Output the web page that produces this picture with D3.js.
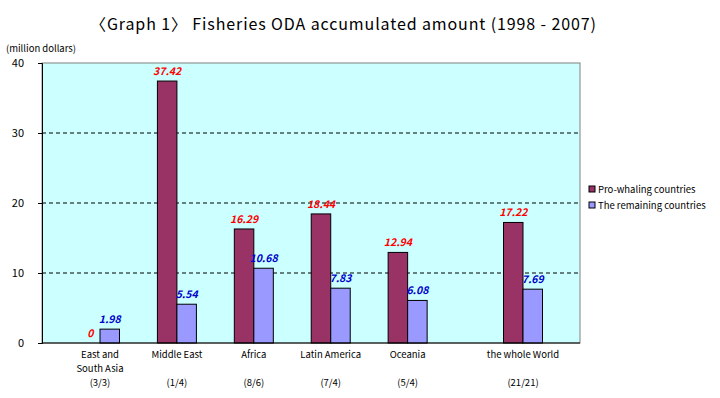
<!DOCTYPE html>
<html>
<head>
<meta charset="utf-8">
<script src="https://cdn.jsdelivr.net/npm/d3@7"></script>
<style>
  body { margin: 0; background: #fff; }
  svg text { font-family: "Noto Sans CJK JP", "DejaVu Sans", sans-serif; }
</style>
</head>
<body>
<div id="chart"></div>
<script>
// data
var regions = ["East and South Asia", "Middle East", "Africa", "Latin America", "Oceania", "the whole World"];
var labelLines = [["East and", "South Asia", "(3/3)"], ["Middle East", "", "(1/4)"], ["Africa", "", "(8/6)"],
                  ["Latin America", "", "(7/4)"], ["Oceania", "", "(5/4)"], ["the whole World", "", "(21/21)"]];
var proWhaling = [0, 37.42, 16.29, 18.44, 12.94, 17.22];
var remaining = [1.98, 5.54, 10.68, 7.83, 6.08, 7.69];
var yTicks = [0, 10, 20, 30, 40];
var seriesNames = ["Pro-whaling countries", "The remaining countries"];

var width = 720, height = 398;
var plot = {left: 42, right: 580, top: 63, bottom: 343};
var barW = 19.5;

var svg = d3.select("#chart").append("svg")
    .attr("width", width)
    .attr("height", height);

// the whole World sits a half slot further right than the others
var slot = function (i) { return i < 5 ? i : i + 0.5; };
var x = d3.scaleLinear().domain([0, 5.5]).range([100, 523]);
var y = d3.scaleLinear().domain([0, 40]).range([plot.bottom, plot.top]);

svg.append("text")
    .attr("x", 90).attr("y", 30)
    .attr("textLength", 506)
    .attr("lengthAdjust", "spacing")
    .style("font-size", "16px")
    .text("\u3008Graph 1\u3009 Fisheries ODA accumulated amount (1998 - 2007)");

svg.append("text")
    .attr("x", 6).attr("y", 52)
    .style("font-size", "9.5px")
    .text("(million dollars)");

// plot background
svg.append("rect")
    .attr("x", plot.left).attr("y", plot.top)
    .attr("width", plot.right - plot.left)
    .attr("height", plot.bottom - plot.top)
    .style("fill", "#ccffff")
    .style("stroke", "#808080");

// dashed gridlines
svg.selectAll(".grid")
    .data(yTicks.filter(function (d) { return d > 0 && d < 40; }))
    .enter().append("line")
    .attr("x1", plot.left).attr("x2", plot.right)
    .attr("y1", function (d) { return y(d); })
    .attr("y2", function (d) { return y(d); })
    .style("stroke", "#000")
    .style("stroke-dasharray", "4,3");

// y axis
var yAxis = svg.append("g")
    .attr("transform", "translate(" + plot.left + ",0)")
    .call(d3.axisLeft(y).tickValues(yTicks).tickSize(4).tickPadding(14));
yAxis.select(".domain").style("stroke", "#000");
yAxis.selectAll("text").style("font-size", "11px")
    .style("font-family", "\"Noto Sans CJK JP\", \"DejaVu Sans\", sans-serif");

// bars
svg.selectAll(".pro")
    .data(proWhaling)
    .enter().append("rect")
    .attr("x", function (d, i) { return x(slot(i)) - barW; })
    .attr("y", function (d) { return y(d); })
    .attr("width", barW)
    .attr("height", function (d) { return y(0) - y(d); })
    .style("fill", "#993366")
    .style("stroke", "#000")
    .style("stroke-width", 1);

svg.selectAll(".rem")
    .data(remaining)
    .enter().append("rect")
    .attr("x", function (d, i) { return x(slot(i)); })
    .attr("y", function (d) { return y(d); })
    .attr("width", barW)
    .attr("height", function (d) { return y(0) - y(d); })
    .style("fill", "#9999ff")
    .style("stroke", "#000")
    .style("stroke-width", 1);

// x axis line
svg.append("line")
    .attr("x1", plot.left).attr("x2", plot.right)
    .attr("y1", y(0)).attr("y2", y(0))
    .style("stroke", "#000");

// value labels
svg.selectAll(".proLabel")
    .data(proWhaling)
    .enter().append("text")
    .attr("x", function (d, i) { return x(slot(i)) - barW / 2; })
    .attr("y", function (d) { return y(d) - 6; })
    .attr("text-anchor", "middle")
    .style("font-size", "10.5px")
    .style("font-weight", "bold")
    .style("font-style", "italic")
    .style("fill", "#ff0000")
    .text(function (d) { return d === 0 ? "0" : d.toFixed(2); });

svg.selectAll(".remLabel")
    .data(remaining)
    .enter().append("text")
    .attr("x", function (d, i) { return x(slot(i)) + barW / 2; })
    .attr("y", function (d) { return y(d) - 6; })
    .attr("text-anchor", "middle")
    .style("font-size", "10.5px")
    .style("font-weight", "bold")
    .style("font-style", "italic")
    .style("fill", "#0000cc")
    .text(function (d) { return d.toFixed(2); });

// category labels
var cats = svg.selectAll(".cat")
    .data(labelLines)
    .enter().append("text")
    .attr("text-anchor", "middle")
    .style("font-size", "9.5px");
cats.selectAll("tspan")
    .data(function (d, i) { return d.map(function (t) { return {t: t, i: i}; }); })
    .enter().append("tspan")
    .attr("x", function (d) { return x(slot(d.i)); })
    .attr("y", function (d, j) { return 358 + j * 14; })
    .text(function (d) { return d.t; });

// legend
var legend = svg.selectAll(".legend")
    .data(seriesNames)
    .enter().append("g")
    .attr("transform", function (d, i) { return "translate(589," + (186 + i * 16) + ")"; });
legend.append("rect")
    .attr("width", 6).attr("height", 6)
    .style("fill", function (d, i) { return i === 0 ? "#993366" : "#9999ff"; })
    .style("stroke", "#000");
legend.append("text")
    .attr("x", 9).attr("y", 6.5)
    .style("font-size", "9.5px")
    .text(function (d) { return d; });
</script>
</body>
</html>
